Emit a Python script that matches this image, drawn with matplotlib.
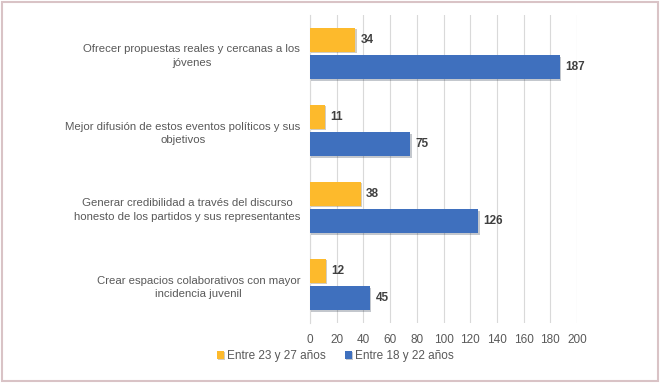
import numpy as np
import matplotlib.pyplot as plt
from matplotlib.patches import Rectangle
import matplotlib.patheffects as pe

plt.rcParams['font.family'] = ['Liberation Sans', 'DejaVu Sans']

categories = [
    "Ofrecer propuestas reales y cercanas a los\njóvenes",
    "Mejor difusión de estos eventos políticos y sus\nobjetivos",
    "Generar credibilidad a través del discurso\nhonesto de los partidos y sus representantes",
    "Crear espacios colaborativos con mayor\nincidencia juvenil",
]
age_23_27 = [34, 11, 38, 12]
age_18_22 = [187, 75, 126, 45]
series_names = ["Entre 23 y 27 años", "Entre 18 y 22 años"]

yellow = "#FDBA2C"
blue = "#3F70BE"

fig = plt.figure(figsize=(6.6, 3.83), dpi=100)
fig.patches.append(Rectangle((0.003, 0.004), 0.994, 0.992, transform=fig.transFigure,
                             facecolor="none", edgecolor="#d9c3c6", linewidth=1.5, zorder=10))
ax = fig.add_axes([310 / 660, 1 - 323 / 383, 267 / 660, 308 / 383])

y = np.arange(len(categories))
h = 0.31
shadow = [pe.SimplePatchShadow(offset=(1, -1), alpha=0.25), pe.Normal()]
b1 = ax.barh(y - h / 2 - 0.025, age_23_27, height=h, color=yellow, label=series_names[0],
             path_effects=shadow, zorder=3)
b2 = ax.barh(y + h / 2 + 0.025, age_18_22, height=h, color=blue, label=series_names[1],
             path_effects=shadow, zorder=3)

for bars, vals in ((b1, age_23_27), (b2, age_18_22)):
    for bar, v in zip(bars, vals):
        ax.text(bar.get_width() + 4, bar.get_y() + bar.get_height() / 2, str(v),
                va="center", ha="left", fontsize=8.5, fontweight="bold", color="#404040")

ax.set_ylim(len(categories) - 0.5, -0.5)
ax.set_xlim(0, 200)
ax.set_xticks(range(0, 201, 20))
ax.set_yticks(y)
ax.set_yticklabels(categories, fontsize=8.2, color="#595959", ha="right",
                   multialignment="center", linespacing=1.45)
ax.tick_params(axis="y", length=0, pad=7)
ax.tick_params(axis="x", length=0, labelsize=8.5, labelcolor="#595959", pad=8)
ax.grid(axis="x", color="#d9d9d9", linewidth=0.8, zorder=0)
ax.set_axisbelow(True)
for s in ("top", "right", "bottom"):
    ax.spines[s].set_visible(False)
ax.spines["left"].set_color("#d9d9d9")

ax.legend(loc="center", bbox_to_anchor=(0.095, -0.107), ncol=2, frameon=False,
          fontsize=8.5, labelcolor="#595959", handlelength=0.6, handleheight=0.6,
          handletextpad=0.3, columnspacing=1.6)

fig.savefig("out.png", dpi=100)
